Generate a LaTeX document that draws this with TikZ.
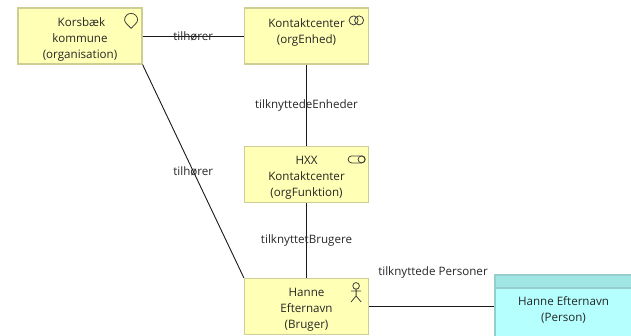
\documentclass[tikz,border=0pt]{standalone}
\usepackage{fontspec}
\setmainfont{Open Sans}
\usepackage{xcolor}
\usepackage{tikz}
\usetikzlibrary{calc, positioning}
\definecolor{orgyellow}{RGB}{255, 255, 181}
\definecolor{orgborder}{RGB}{205, 205, 150}
\definecolor{personcyan}{RGB}{181, 255, 255}
\definecolor{personhead}{RGB}{160, 230, 228}
\definecolor{personborder}{RGB}{150, 205, 205}
\newcommand{\topline}[1][15pt]{\rule{0pt}{#1}}
\tikzset{
    orgnode/.style = {draw=orgborder, fill=orgyellow, rectangle, line width=1.2pt, minimum width=124pt, 
      minimum height=56pt, inner sep = 0pt, node distance=0em},
    personnode/.style = {draw=personborder, fill=personcyan, rectangle, line width=1.2pt, minimum width=137pt, 
      minimum height=64pt, inner sep = 0pt, node distance=0em},
    headnode/.style = {draw=personborder, fill=personhead, rectangle, line width=1.2pt, minimum width=137pt, 
      minimum height=13pt, inner sep = 0pt},
    textnode/.style  = {draw=none, fill=none, rectangle, inner sep = 0pt, node distance=0em},
    connect/.style = {black!90, line width=0.9pt},
    icon/.style = {black!75, line width=0.8pt},
    every text node part/.style={align=center},
    every node/.append style={font=\fontsize{11.6}{16}\selectfont, text=black!85}
}

\begin{document}
\begin{tikzpicture}[x=1pt, y=1pt]
    \useasboundingbox (0,0) rectangle (631,-335);

    \node[orgnode, name=Korsbaek] at (80,-36) {\topline[16pt] Korsbæk\\kommune\\(organisation)};
    \node[orgnode, name=Kontakt, right of=Korsbaek, xshift=226.5pt] {\topline Kontaktcenter\\(orgEnhed)\\~};
    \node[orgnode, name=HXX, below of=Kontakt, yshift=-138.5pt] {\topline HXX\\Kontaktcenter\\(orgFunktion)};
    \node[orgnode, name=Hanne, below of=HXX, yshift=-132pt] {\topline Hanne\\Efternavn\\(Bruger)};
    \node[personnode, name=Person, right of=Hanne, xshift=257pt, yshift=-0.5pt] {\topline Hanne Efternavn\\(Person)};
    \node[headnode, name=PersonHead, anchor=north] at (Person.north) {};

    \draw[connect] (Korsbaek) edge node[textnode] {tilhører} (Kontakt);
    \draw[connect] (Korsbaek.south east) edge node[textnode] {tilhører} (Hanne.north west);
    \draw[connect] (Kontakt) edge node[textnode] {tilknyttedeEnheder} (HXX);
    \draw[connect] (HXX) edge node[textnode] {tilknyttetBrugere} (Hanne);
    \draw[connect] (Hanne.east) edge (Hanne.east -| Person.west);
    \node[textnode, name=PersonLabel, right of=Hanne, xshift=126.5pt, yshift=34pt] {tilknyttede Personer};

    % icons
    \draw[icon, shift={(Korsbaek.north east)}] (-11.5,-21) .. controls (-14,-18) and (-18,-15.5) .. (-18,-12.5) 
      arc[start angle=180, end angle=0, radius=6.5] .. controls (-5,-15.5) and (-9,-18) .. (-11.5,-21);
    \draw[icon, shift={(Kontakt.north east)}] (-15.5,-13) circle (4.5pt) (-10,-13) circle (4.5pt);
    \draw[icon, rounded corners=3.5pt, shift={(HXX.north east)}] (-21,-10) rectangle (-4,-17);
    \draw[icon, shift={(HXX.north east)}] (-7.5,-13.5) circle (3.5pt);
    \draw[icon, shift={(Hanne.north east)}] (-13,-8) circle (3.3pt) (-13,-11.3) -- (-13,-18) 
      (-18,-13) -- (-8,-13) (-18,-24) -- (-13,-18) -- (-8,-24);
\end{tikzpicture}
\end{document}
